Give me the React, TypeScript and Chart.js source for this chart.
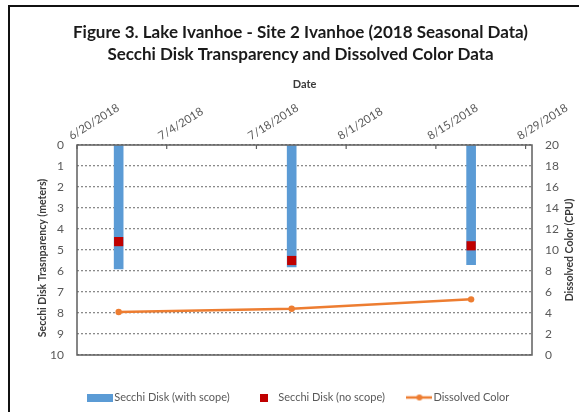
import React, { useEffect, useRef } from "react";
import { Chart, registerables } from "chart.js";

Chart.register(...registerables);

// ---------- data ----------
const axisStartDate = "2018-06-20";
const axisEndDate = "2018-08-30"; // end of the 8/29 day slot
const tickStepDays = 14;
const sampleDates = ["2018-06-26", "2018-07-23", "2018-08-20"];
const secchiWithScope = [5.9, 5.8, 5.7];
const secchiNoScope = [4.6, 5.5, 4.8];
const dissolvedColor = [4.1, 4.4, 5.3];

const seriesLabels = ["Secchi Disk (with scope)", "Secchi Disk (no scope)", "Dissolved Color"];
const titleLines = [
  "Figure 3. Lake Ivanhoe - Site 2 Ivanhoe (2018 Seasonal Data)",
  "Secchi Disk Transparency and Dissolved Color Data",
];
const xAxisTitle = "Date";
const leftAxisTitle = "Secchi Disk Trasnparency (meters)";
const rightAxisTitle = "Dissolved Color (CPU)";
const depthRange = [0, 10];
const depthStep = 1;
const colorRange = [0, 20];
const colorStep = 2;

// ---------- helpers ----------
const DAY = 86400000;
const dayOffset = (d: string) => (Date.parse(d) - Date.parse(axisStartDate)) / DAY;
// Excel date axis: each day occupies a slot, points sit at slot centre
const slotCenter = (d: string) => dayOffset(d) + 0.5;
const formatTick = (v: number) => {
  const dt = new Date(Date.parse(axisStartDate) + v * DAY);
  return `${dt.getUTCMonth() + 1}/${dt.getUTCDate()}/${dt.getUTCFullYear()}`;
};

const W = 579;
const H = 412;
const FONT = "Lato, 'Noto Sans', sans-serif";
const BLUE = "#5B9BD5";
const RED = "#C00000";
const ORANGE = "#ED7D31";
const TICK_COLOR = "#595959";
const TITLE_COLOR = "#3a3a3a";

function makeIcon(w: number, h: number, draw: (c: CanvasRenderingContext2D) => void) {
  const c = document.createElement("canvas");
  c.width = w;
  c.height = h;
  const ctx = c.getContext("2d")!;
  draw(ctx);
  return c;
}

const decorPlugin = {
  id: "decor",
  afterDatasetsDraw(chart: any) {
    const { ctx, chartArea } = chart;
    const { left, top, right, bottom } = chartArea;
    ctx.save();
    ctx.strokeStyle = "#5f5f5f";
    ctx.lineWidth = 1.5;
    ctx.strokeRect(left, top, right - left, bottom - top);
    // inside tick marks on the top date axis
    const xs = chart.scales.x;
    ctx.lineWidth = 1.2;
    xs.ticks.forEach((t: any) => {
      const px = xs.getPixelForValue(t.value);
      ctx.beginPath();
      ctx.moveTo(px, top);
      ctx.lineTo(px, top + 4);
      ctx.stroke();
    });
    ctx.restore();
  },
  afterDraw(chart: any) {
    const { ctx, chartArea } = chart;
    const { left, top, right, bottom } = chartArea;
    const mid = (top + bottom) / 2;
    const side = (text: string, x: number, y: number) => {
      ctx.save();
      ctx.fillStyle = TITLE_COLOR;
      ctx.font = `bold 10.5px ${FONT}`;
      ctx.textAlign = "center";
      ctx.textBaseline = "middle";
      ctx.translate(x, y);
      ctx.rotate(-Math.PI / 2);
      ctx.fillText(text, 0, 0);
      ctx.restore();
    };
    side(leftAxisTitle, left - 34, mid + 8);
    side(rightAxisTitle, right + 38, mid);
  },
};

export default function App() {
  const canvasRef = useRef<HTMLCanvasElement | null>(null);

  useEffect(() => {
    if (!canvasRef.current) return;
    const icons = [
      makeIcon(26, 8, (c) => {
        c.fillStyle = BLUE;
        c.fillRect(0, 0, 26, 8);
      }),
      makeIcon(8, 8, (c) => {
        c.fillStyle = RED;
        c.fillRect(0, 0, 8, 8);
      }),
      makeIcon(26, 8, (c) => {
        c.strokeStyle = ORANGE;
        c.lineWidth = 2.5;
        c.beginPath();
        c.moveTo(0, 4);
        c.lineTo(26, 4);
        c.stroke();
        c.fillStyle = ORANGE;
        c.beginPath();
        c.arc(13, 4, 3, 0, Math.PI * 2);
        c.fill();
      }),
    ];

    const xVals = sampleDates.map(slotCenter);

    const chart = new Chart(canvasRef.current, {
      type: "line",
      data: {
        datasets: [
          {
            type: "bar",
            label: seriesLabels[0],
            data: xVals.map((x, i) => ({ x, y: secchiWithScope[i] })),
            backgroundColor: BLUE,
            borderWidth: 0,
            barThickness: 9,
            xAxisID: "x",
            yAxisID: "y",
            order: 2,
          } as any,
          {
            type: "line",
            label: seriesLabels[1],
            data: xVals.map((x, i) => ({ x, y: secchiNoScope[i] })),
            showLine: false,
            pointStyle: "rect",
            pointRadius: 6.5,
            pointHoverRadius: 6.5,
            pointBackgroundColor: RED,
            pointBorderColor: RED,
            pointBorderWidth: 0,
            backgroundColor: RED,
            borderColor: RED,
            xAxisID: "x",
            yAxisID: "y",
            order: 0,
          },
          {
            type: "line",
            label: seriesLabels[2],
            data: xVals.map((x, i) => ({ x, y: dissolvedColor[i] })),
            borderColor: ORANGE,
            backgroundColor: ORANGE,
            borderWidth: 2.5,
            pointRadius: 3.2,
            pointBorderWidth: 0,
            pointBackgroundColor: ORANGE,
            tension: 0,
            xAxisID: "x",
            yAxisID: "y1",
            order: 1,
          },
        ],
      },
      options: {
        animation: false,
        responsive: false,
        events: [],
        layout: { padding: { left: 22, right: 0, top: 10, bottom: -1 } },
        font: { family: FONT },
        plugins: {
          tooltip: { enabled: false },
          title: {
            display: true,
            text: titleLines,
            color: "#1a1a1a",
            font: { family: FONT, size: 17, weight: "bold", lineHeight: 22 / 17 },
            padding: { top: 12, bottom: 0 },
          },
          legend: {
            position: "bottom",
            labels: {
              usePointStyle: true,
              pointStyleWidth: 17,
              padding: 26,
              color: TICK_COLOR,
              font: { family: FONT, size: 11 },
              sort: (a: any, b: any) => a.datasetIndex - b.datasetIndex,
              generateLabels: (ch: any) => {
                const items = (Chart.defaults.plugins.legend.labels as any).generateLabels(ch);
                return items.map((it: any) => ({ ...it, pointStyle: icons[it.datasetIndex] }));
              },
            },
          },
        } as any,
        scales: {
          x: {
            type: "linear",
            position: "top",
            min: 0,
            max: dayOffset(axisEndDate),
            offset: false,
            grid: { display: false, drawTicks: false, offset: false },
            border: { display: false },
            ticks: {
              stepSize: tickStepDays,
              includeBounds: false,
              minRotation: 32,
              maxRotation: 32,
              padding: 2,
              color: TICK_COLOR,
              font: { family: FONT, size: 11.5 },
              callback: (v: any) => formatTick(Number(v)),
            },
            title: {
              display: true,
              text: xAxisTitle,
              color: TITLE_COLOR,
              font: { family: FONT, size: 11, weight: "bold" },
              padding: { top: 12, bottom: 0 },
            },
            afterFit: (s: any) => {
              s.height = 79;
            },
          },
          x2: {
            type: "linear",
            position: "bottom",
            min: 0,
            max: 1,
            grid: { display: false, drawTicks: false },
            border: { display: false },
            ticks: { display: false },
            afterFit: (s: any) => {
              s.height = 11;
            },
          },
          y: {
            type: "linear",
            position: "left",
            reverse: true,
            min: depthRange[0],
            max: depthRange[1],
            grid: { color: "#8a8a8a", lineWidth: 1.3, drawTicks: false },
            border: { display: false, dash: [2, 2] },
            ticks: {
              stepSize: depthStep,
              padding: 13,
              color: TICK_COLOR,
              font: { family: FONT, size: 12 },
            },
            afterFit: (s: any) => {
              s.width = 55;
            },
          },
          y1: {
            type: "linear",
            position: "right",
            min: colorRange[0],
            max: colorRange[1],
            grid: { display: false, drawTicks: false },
            border: { display: false },
            ticks: {
              stepSize: colorStep,
              padding: 13,
              color: TICK_COLOR,
              font: { family: FONT, size: 12 },
            },
            afterFit: (s: any) => {
              s.width = 47;
            },
          },
        },
      } as any,
      plugins: [decorPlugin],
    });
    return () => chart.destroy();
  }, []);

  return (
    <div
      style={{
        position: "fixed",
        left: 0,
        top: 0,
        width: W,
        height: H,
        overflow: "hidden",
        background: "#fff",
      }}
    >
      <div
        style={{
          position: "absolute",
          left: 8,
          top: 5,
          width: 640,
          height: 480,
          border: "2px solid #111",
        }}
      />
      <canvas
        ref={canvasRef}
        width={W}
        height={H}
        style={{ position: "absolute", left: 0, top: 0, width: W, height: H }}
      />
    </div>
  );
}
